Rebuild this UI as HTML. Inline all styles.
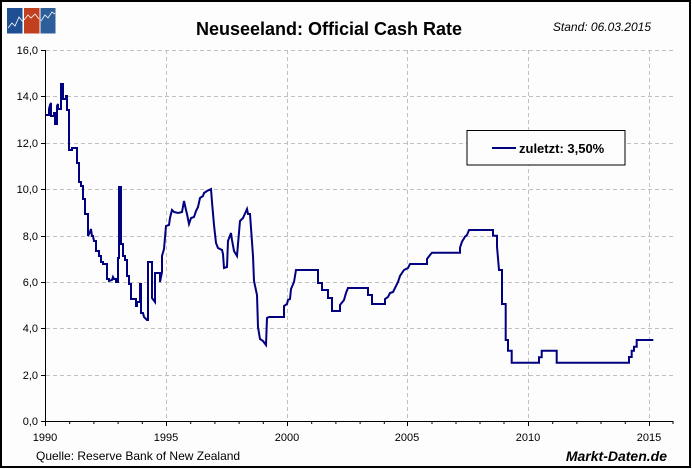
<!DOCTYPE html>
<html><head><meta charset="utf-8"><style>
body{margin:0;background:#fff}
svg{display:block}
text{font-family:"Liberation Sans",Arial,sans-serif}
</style></head><body>
<svg width="692" height="469" viewBox="0 0 692 469" xmlns="http://www.w3.org/2000/svg">
<rect x="0" y="0" width="692" height="469" fill="#fdfdfd"/>
<rect x="1" y="1" width="689" height="466" fill="none" stroke="#000" stroke-width="2"/>
<!-- logo -->
<rect x="7" y="8" width="15.5" height="25.5" fill="#1f4f93"/>
<rect x="24" y="8" width="15.5" height="25.5" fill="#c0401f"/>
<rect x="40.5" y="8" width="15" height="25.5" fill="#2e5e9a"/>
<polyline points="8,28 12,23 15,26 19,17 23,22" fill="none" stroke="#fff" stroke-width="0.8"/>
<polyline points="24,20 28,15 31,18 35,14 39,19" fill="none" stroke="#fff" stroke-width="0.8"/>
<polyline points="41,21 45,15 48,18 52,12 55,14" fill="none" stroke="#fff" stroke-width="0.8"/>
<!-- title -->
<text x="329" y="35" font-size="18" font-weight="bold" text-anchor="middle" fill="#000">Neuseeland: Official Cash Rate</text>
<text x="651" y="31" font-size="12" font-style="italic" text-anchor="end" fill="#000">Stand: 06.03.2015</text>
<!-- grid -->
<g stroke="#c0c0c0" stroke-width="1" stroke-dasharray="4,3">
<line x1="46" y1="50.5" x2="673" y2="50.5"/>
<line x1="46" y1="96.5" x2="673" y2="96.5"/>
<line x1="46" y1="143.5" x2="673" y2="143.5"/>
<line x1="46" y1="189.5" x2="673" y2="189.5"/>
<line x1="46" y1="236.5" x2="673" y2="236.5"/>
<line x1="46" y1="282.5" x2="673" y2="282.5"/>
<line x1="46" y1="328.5" x2="673" y2="328.5"/>
<line x1="46" y1="375.5" x2="673" y2="375.5"/>
<line x1="166.5" y1="50" x2="166.5" y2="421"/>
<line x1="287.5" y1="50" x2="287.5" y2="421"/>
<line x1="407.5" y1="50" x2="407.5" y2="421"/>
<line x1="528.5" y1="50" x2="528.5" y2="421"/>
<line x1="649.5" y1="50" x2="649.5" y2="421"/>
</g>
<!-- axes -->
<g stroke="#000" stroke-width="1">
<line x1="45.5" y1="50" x2="45.5" y2="422"/>
<line x1="45" y1="421.5" x2="673" y2="421.5"/>
<line x1="41" y1="50.5" x2="45" y2="50.5"/><line x1="41" y1="96.5" x2="45" y2="96.5"/>
<line x1="41" y1="143.5" x2="45" y2="143.5"/><line x1="41" y1="189.5" x2="45" y2="189.5"/>
<line x1="41" y1="236.5" x2="45" y2="236.5"/><line x1="41" y1="282.5" x2="45" y2="282.5"/>
<line x1="41" y1="328.5" x2="45" y2="328.5"/><line x1="41" y1="375.5" x2="45" y2="375.5"/>
<line x1="41" y1="421.5" x2="45" y2="421.5"/>
</g>
<g stroke="#000" stroke-width="1" id="ticks"></g>
<path d="M45.5 421 v5 M69.7 421 v3 M93.9 421 v3 M118.1 421 v3 M142.3 421 v3 M166.5 421 v5 M190.7 421 v3 M214.9 421 v3 M239.1 421 v3 M263.3 421 v3 M287.5 421 v5 M311.7 421 v3 M335.9 421 v3 M360.1 421 v3 M384.3 421 v3 M407.5 421 v5 M432 421 v3 M456 421 v3 M480 421 v3 M504 421 v3 M528.5 421 v5 M552.7 421 v3 M576.9 421 v3 M601 421 v3 M625.3 421 v3 M649.5 421 v5 M673 421 v3" stroke="#000" stroke-width="1"/>
<!-- y labels -->
<g font-size="11" text-anchor="end" fill="#000">
<text x="38" y="54">16,0</text><text x="38" y="100">14,0</text><text x="38" y="147">12,0</text>
<text x="38" y="193">10,0</text><text x="38" y="240">8,0</text><text x="38" y="286">6,0</text>
<text x="38" y="332">4,0</text><text x="38" y="379">2,0</text><text x="38" y="425">0,0</text>
</g>
<g font-size="11" text-anchor="middle" fill="#000">
<text x="45" y="441">1990</text><text x="166" y="441">1995</text><text x="287" y="441">2000</text>
<text x="407" y="441">2005</text><text x="528" y="441">2010</text><text x="649" y="441">2015</text>
</g>
<!-- series -->
<path fill="none" stroke="#000080" stroke-width="2" stroke-linejoin="miter" d="M46,115 L49,115 L49,109 L50,105 L51,103 L51,116 L54,116 L54,113 L55,113 L55,124 L57,124 L57,106 L58,104 L58,109 L61,109 L61,84 L63,84 L63,99 L66,99 L66,96 L67,96 L67,110 L69,110 L69,150 L72,150 L72,148 L77,148 L77,163 L79,163 L79,182 L81,182 L81,186 L83,186 L83,199 L85,199 L85,214 L88,214 L88,236 L90,232 L91,229 L92,236 L93,236 L94,241 L96,241 L96,251 L99,251 L99,256 L101,256 L101,262 L103,262 L103,264 L107,264 L107,279 L109,279 L109,281 L112,280 L113,277 L114,279 L116,279 L116,282 L118,282 L118,258 L119,258 L119,187 L121,187 L121,244 L123,244 L123,256 L125,256 L125,260 L127,260 L127,276 L129,276 L129,284 L131,284 L131,299 L136,299 L136,306 L137,306 L137,302 L140,302 L140,284 L141,284 L141,313 L143,313 L144,317 L147,320 L148,320 L148,262 L152,262 L152,298 L155,302 L155,273 L160,273 L160,282 L162,272 L162,256 L164,249 L166,226 L169,225 L170,218 L172,210 L174,212 L178,213 L182,212 L184,201 L186,210 L187,214 L189,224 L191,218 L194,217 L196,211 L198,207 L200,198 L203,196 L204,193 L207,191 L211,189 L212,202 L214,225 L216,243 L218,248 L222,250 L223,254 L224,268 L227,267 L228,241 L231,233 L232,240 L234,251 L237,256 L238,244 L240,221 L243,218 L247,209 L248,214 L250,214 L253,256 L254,281 L257,295 L258,327 L260,339 L263,341 L266,345 L267,318 L269,317 L284,317 L284,306 L287,304 L288,300 L290,299 L291,289 L294,282 L296,270 L318,270 L318,283 L322,283 L322,290 L328,290 L328,298 L332,298 L332,311 L340,311 L340,305 L344,300 L346,293 L348,288 L368,288 L368,295 L372,295 L372,304 L385,304 L385,299 L388,297 L390,293 L393,292 L395,288 L398,282 L400,276 L404,270 L408,268 L410,264 L427,264 L427,259 L430,255 L432,252.7 L460,252.7 L460,247.7 L462,241.7 L465,236.7 L467,235 L469,230 L493,230 L493,235.7 L497,235.7 L497,246.7 L499,270 L502,270 L502,304 L505.7,304 L505.7,340 L508,340 L508,350.7 L511.7,350.7 L511.7,362.7 L539,362.7 L539,357.3 L541.7,357.3 L541.7,350.7 L556.7,350.7 L556.7,362.7 L629,362.7 L629,357 L631.7,357 L631.7,350.7 L634,350.7 L634,346.7 L636.7,346.7 L636.7,340 L653.3,340"/>
<!-- legend -->
<rect x="467" y="130.5" width="158" height="34.5" fill="#fdfdfd" stroke="#000" stroke-width="1"/>
<line x1="492" y1="148" x2="516" y2="148" stroke="#000080" stroke-width="2"/>
<text x="519" y="153" font-size="13" font-weight="bold" fill="#000">zuletzt: 3,50%</text>
<!-- footer -->
<text x="36" y="460" font-size="12" fill="#000">Quelle: Reserve Bank of New Zealand</text>
<text x="667" y="461" font-size="14" font-weight="bold" font-style="italic" text-anchor="end" fill="#000">Markt-Daten.de</text>
</svg>
</body></html>
